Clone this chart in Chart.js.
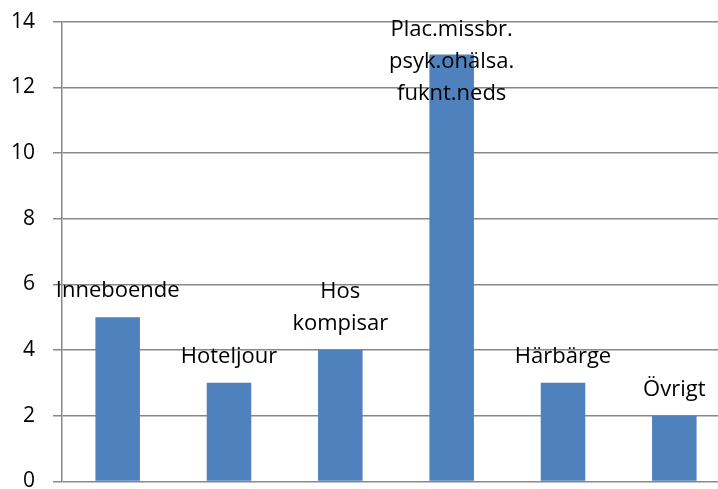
<!DOCTYPE html>
<html>
<head>
<meta charset="utf-8">
<script src="https://cdn.jsdelivr.net/npm/chart.js@4/dist/chart.umd.min.js"></script>
<style>
  html, body { margin: 0; padding: 0; background: #fff; overflow: hidden; }
  #wrap { position: absolute; left: 0; top: -9px; width: 730px; height: 521px; }
</style>
</head>
<body>
<div id="wrap"><canvas id="c"></canvas></div>
<script>
// Data
const categories = [
  ["Inneboende"],
  ["Hoteljour"],
  ["Hos", "kompisar"],
  ["Plac.missbr.", "psyk.ohälsa.", "fuknt.neds"],
  ["Härbärge"],
  ["Övrigt"]
];
const values = [5, 3, 4, 13, 3, 2];
const yTicks = [0, 2, 4, 6, 8, 10, 12, 14];

const FONT = "'Open Sans', 'Noto Sans', sans-serif";

const labelPlugin = {
  id: 'barLabels',
  afterDatasetsDraw(chart) {
    const ctx = chart.ctx;
    const meta = chart.getDatasetMeta(0);
    ctx.save();
    ctx.font = "22px " + FONT;
    ctx.fillStyle = '#000';
    ctx.textAlign = 'center';
    ctx.textBaseline = 'alphabetic';
    const lineH = 32;
    meta.data.forEach((bar, i) => {
      const lines = categories[i];
      let first = bar.y - 20 - (lines.length - 1) * lineH;
      first = Math.max(first, chart.chartArea.top + 14);
      lines.forEach((t, k) => ctx.fillText(t, bar.x, first + k * lineH));
    });
    ctx.restore();
  }
};

new Chart(document.getElementById('c'), {
  type: 'bar',
  data: {
    labels: categories.map(l => l.join(' ')),
    datasets: [{
      data: values,
      backgroundColor: '#4F81BD',
      borderWidth: 0,
      barPercentage: 0.4,
      categoryPercentage: 1.0
    }]
  },
  options: {
    responsive: true,
    maintainAspectRatio: false,
    animation: false,
    layout: { padding: 0 },
    plugins: { legend: { display: false }, tooltip: { enabled: false } },
    scales: {
      x: { display: false },
      y: {
        min: 0, max: 14,
        afterFit(scale) { scale.width = 62; },
        afterBuildTicks(scale) { scale.ticks = yTicks.map(v => ({ value: v })); },
        ticks: {
          color: '#000',
          padding: 18,
          font: { family: FONT, size: 21 }
        },
        grid: {
          color: '#888888',
          lineWidth: 1.5,
          tickLength: 9,
          drawTicks: true
        },
        border: { display: true, color: '#888888', width: 1.5 }
      }
    }
  },
  plugins: [labelPlugin]
});
</script>
</body>
</html>
